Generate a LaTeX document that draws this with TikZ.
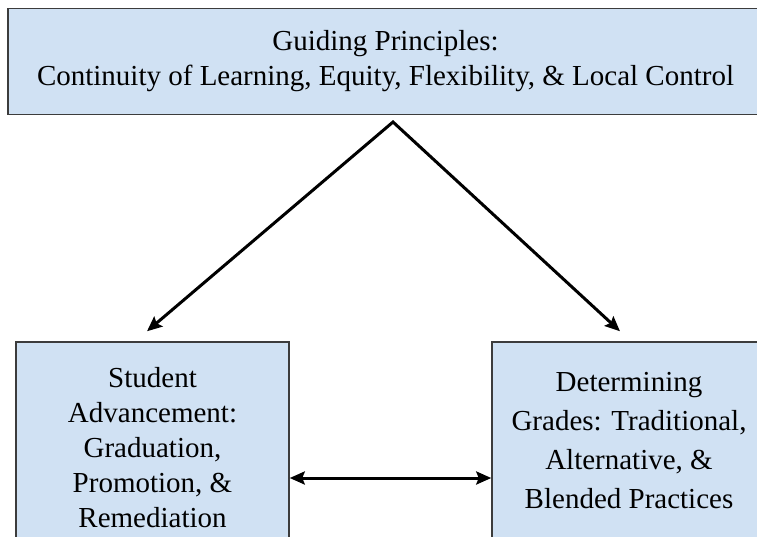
\documentclass[tikz,border=0pt]{standalone}
\usepackage{fontspec}
\setmainfont{Liberation Serif}
\usetikzlibrary{arrows.meta,positioning,calc}
\definecolor{boxfill}{RGB}{208,225,243}
\definecolor{boxline}{RGB}{60,60,60}

\begin{document}
\begin{tikzpicture}[x=1pt,y=-1pt,
    font=\fontsize{29}{35}\selectfont,
    box/.style={draw=boxline, line width=1.5pt, fill=boxfill, align=center, inner sep=0pt},
    tip/.tip={Stealth[length=15pt,width=13pt,inset=2.5pt]},
    arr/.style={line width=3pt, tip-tip}]
  \useasboundingbox (0,0) rectangle (757,536);
  \node[box, minimum width=755pt, minimum height=106pt] (guide) at (385.5,61.5) {
    Guiding Principles:\\
    Continuity of Learning, Equity, Flexibility, \& Local Control
  };
  \node[box, minimum width=273pt, minimum height=211pt] (advance) at (152.5,447.5) {
    Student\\
    Advancement:\\
    Graduation,\\
    Promotion, \&\\
    Remediation
  };
  \node[box, minimum width=274pt, minimum height=198pt,
        font=\fontsize{29}{39}\selectfont] (grades) at (629,441) {
    Determining\\
    Grades: Traditional,\\
    Alternative, \&\\
    Blended Practices
  };
  \coordinate (peak) at (393,122);
  \draw[arr, line join=miter] ($(advance.north)+(-5.5,-10)$) -- (peak) -- ($(grades.north)+(-9,-10)$);
  \draw[arr] ($(advance.east)+(0,30.5)$) -- ($(grades.west)+(0,37)$);
\end{tikzpicture}
\end{document}
